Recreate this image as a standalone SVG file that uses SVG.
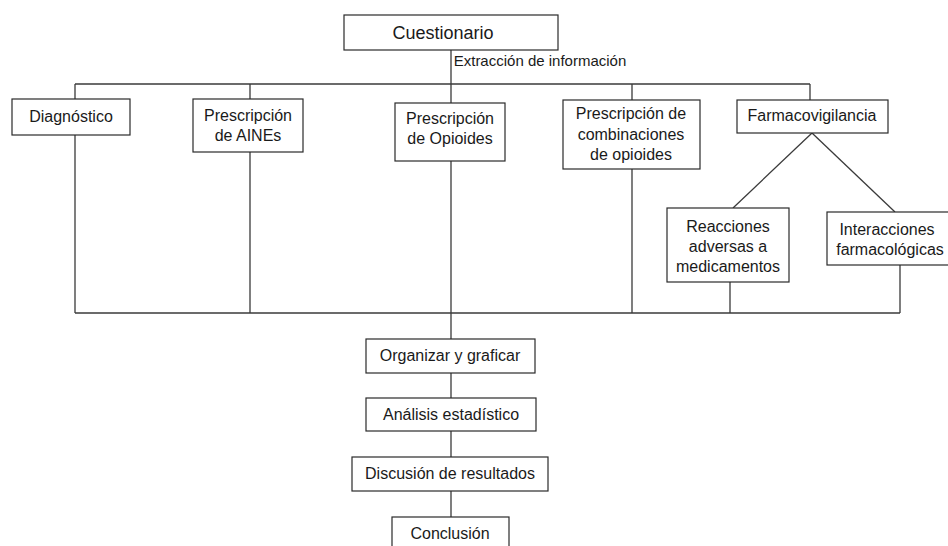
<svg xmlns="http://www.w3.org/2000/svg" width="948" height="546" viewBox="0 0 948 546">
<style>
rect.box{fill:#fff;stroke:#2a2a2a;stroke-width:1.2}
text{font-family:"Liberation Sans",Arial,sans-serif;font-size:16px;fill:#1a1a1a;text-anchor:middle}
.conn line{stroke:#3a3a3a;stroke-width:1.3}
</style>
<rect width="948" height="546" fill="#fff"/>
<g id="connectors" class="conn">
<line x1="451" y1="50" x2="451" y2="84"/>
<line x1="75" y1="84" x2="810" y2="84"/>
<line x1="75" y1="84" x2="75" y2="99"/>
<line x1="250" y1="84" x2="250" y2="99"/>
<line x1="451" y1="84" x2="451" y2="103"/>
<line x1="632" y1="84" x2="632" y2="100"/>
<line x1="810" y1="84" x2="810" y2="100"/>
<line x1="75" y1="135" x2="75" y2="313"/>
<line x1="250" y1="152" x2="250" y2="313"/>
<line x1="451" y1="161" x2="451" y2="339"/>
<line x1="632" y1="169" x2="632" y2="313"/>
<line x1="812" y1="133" x2="733" y2="208"/>
<line x1="812" y1="133" x2="895" y2="212"/>
<line x1="730" y1="282" x2="730" y2="313"/>
<line x1="900" y1="265" x2="900" y2="313"/>
<line x1="75" y1="313" x2="900" y2="313"/>
<line x1="451" y1="373" x2="451" y2="398"/>
<line x1="451" y1="431" x2="451" y2="457"/>
<line x1="451" y1="491" x2="451" y2="517"/>
</g>
<text x="540" y="66" style="font-size:15px">Extracción de información</text>
<g id="cuestionario"><rect class="box" x="344" y="15" width="214" height="35"/><text x="443" y="39" style="font-size:18px">Cuestionario</text></g>
<g id="diagnostico"><rect class="box" x="12" y="99" width="118" height="36"/><text x="71" y="122">Diagnóstico</text></g>
<g id="aines"><rect class="box" x="193" y="99" width="110" height="53"/><text x="248" y="121">Prescripción</text><text x="248" y="141">de AINEs</text></g>
<g id="opioides"><rect class="box" x="395" y="103" width="110" height="58"/><text x="450" y="124">Prescripción</text><text x="450" y="144">de Opioides</text></g>
<g id="combinaciones"><rect class="box" x="563" y="100" width="137" height="69"/><text x="631" y="119">Prescripción de</text><text x="631" y="140">combinaciones</text><text x="631" y="160">de opioides</text></g>
<g id="farmacovigilancia"><rect class="box" x="737" y="100" width="151" height="33"/><text x="812" y="121">Farmacovigilancia</text></g>
<g id="reacciones"><rect class="box" x="667" y="208" width="122" height="74"/><text x="728" y="232">Reacciones</text><text x="728" y="252">adversas a</text><text x="728" y="272">medicamentos</text></g>
<g id="interacciones"><rect class="box" x="827" y="212" width="124" height="53"/><text x="887" y="235">Interacciones</text><text x="890" y="255">farmacológicas</text></g>
<g id="organizar"><rect class="box" x="366" y="339" width="169" height="34"/><text x="450" y="361">Organizar y graficar</text></g>
<g id="analisis"><rect class="box" x="366" y="398" width="170" height="33"/><text x="451" y="420">Análisis estadístico</text></g>
<g id="discusion"><rect class="box" x="352" y="457" width="196" height="34"/><text x="450" y="479">Discusión de resultados</text></g>
<g id="conclusion"><rect class="box" x="392" y="517" width="117" height="36"/><text x="450" y="539">Conclusión</text></g>
</svg>
